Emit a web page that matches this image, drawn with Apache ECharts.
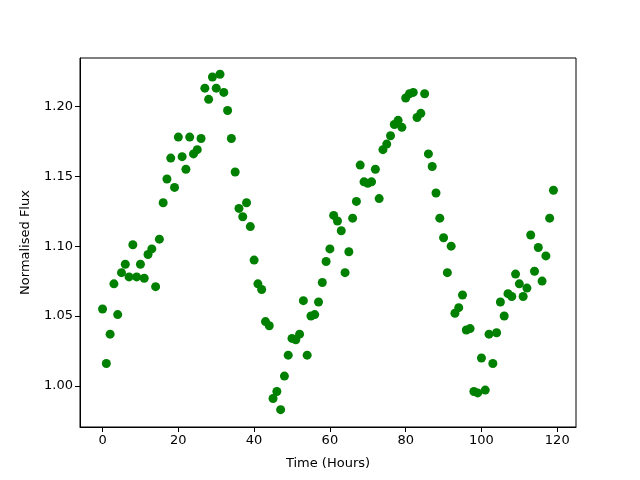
<!DOCTYPE html>
<html lang="en">
<head>
    <meta charset="UTF-8">
    <title>Normalised Flux</title>
    <script src="https://cdn.jsdelivr.net/npm/echarts@6/dist/echarts.min.js"></script>
    <style>
        html, body { margin: 0; padding: 0; background: #fff; }
        #chart { width: 640px; height: 480px; }
    </style>
</head>
<body>
    <div id="chart"></div>
    <script>
        // hours 0..119
        var hours = [];
        for (var i = 0; i < 120; i++) hours.push(i);

        var flux = [
            1.055, 1.016, 1.037, 1.073, 1.051, 1.081, 1.087, 1.078, 1.101, 1.078,
            1.087, 1.077, 1.094, 1.098, 1.071, 1.105, 1.131, 1.148, 1.163, 1.142,
            1.178, 1.164, 1.155, 1.178, 1.166, 1.169, 1.177, 1.213, 1.205, 1.221,
            1.213, 1.223, 1.210, 1.197, 1.177, 1.153, 1.127, 1.121, 1.131, 1.114,
            1.090, 1.073, 1.069, 1.046, 1.043, 0.991, 0.996, 0.983, 1.007, 1.022,
            1.034, 1.033, 1.037, 1.061, 1.022, 1.050, 1.051, 1.060, 1.074, 1.089,
            1.098, 1.122, 1.118, 1.111, 1.081, 1.096, 1.120, 1.132, 1.158, 1.146,
            1.145, 1.146, 1.155, 1.134, 1.169, 1.173, 1.179, 1.187, 1.190, 1.185,
            1.206, 1.209, 1.210, 1.192, 1.195, 1.209, 1.166, 1.157, 1.138, 1.120,
            1.106, 1.081, 1.100, 1.052, 1.056, 1.065, 1.040, 1.041, 0.996, 0.995,
            1.020, 0.997, 1.037, 1.016, 1.038, 1.060, 1.050, 1.066, 1.064, 1.080,
            1.073, 1.064, 1.070, 1.108, 1.082, 1.099, 1.075, 1.093, 1.120, 1.140
        ];

        var xTicks = [0, 20, 40, 60, 80, 100, 120];
        var yTicks = [1.00, 1.05, 1.10, 1.15, 1.20];

        var points = hours.map(function (h, k) { return [h, flux[k]]; });

        var font = 'DejaVu Sans';
        var chart = echarts.init(document.getElementById('chart'));
        chart.setOption({
            animation: false,
            grid: {
                left: 80, right: 64, top: 58, bottom: 53,
                show: true, borderColor: '#000', borderWidth: 1,
                backgroundColor: '#fff'
            },
            xAxis: {
                type: 'value',
                min: -5.95, max: 124.95,
                name: 'Time (Hours)',
                nameLocation: 'middle',
                nameGap: 30,
                nameTextStyle: { fontFamily: font, fontSize: 13, color: '#000' },
                axisLine: { show: true, onZero: false, lineStyle: { color: '#000' } },
                axisTick: { show: true, inside: false, length: 5, customValues: xTicks, lineStyle: { color: '#000' } },
                axisLabel: {
                    customValues: xTicks, margin: 7,
                    fontFamily: font, fontSize: 13, color: '#000'
                },
                splitLine: { show: false }
            },
            yAxis: {
                type: 'value',
                min: 0.9706, max: 1.2346,
                name: 'Normalised Flux',
                nameLocation: 'middle',
                nameGap: 48,
                nameRotate: 90,
                nameTextStyle: { fontFamily: font, fontSize: 13, color: '#000' },
                axisLine: { show: true, onZero: false, lineStyle: { color: '#000' } },
                axisTick: { show: true, inside: false, length: 5, customValues: yTicks, lineStyle: { color: '#000' } },
                axisLabel: {
                    customValues: yTicks, margin: 7,
                    fontFamily: font, fontSize: 13, color: '#000',
                    formatter: function (v) { return v.toFixed(2); }
                },
                splitLine: { show: false }
            },
            series: [{
                type: 'scatter',
                data: points,
                symbol: 'circle',
                symbolSize: 9,
                itemStyle: { color: '#008000', opacity: 1 }
            }]
        });
    </script>
</body>
</html>
